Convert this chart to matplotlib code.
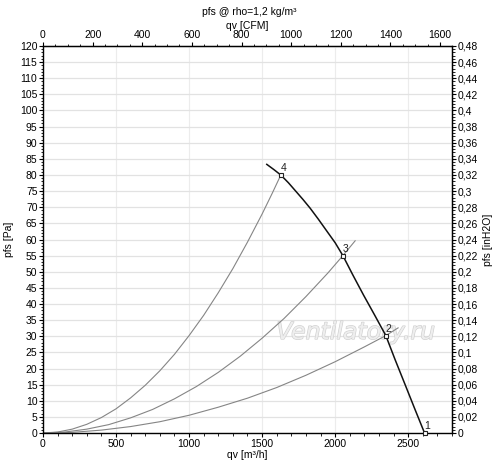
import matplotlib
matplotlib.use("Agg")
import matplotlib.pyplot as plt
from matplotlib.ticker import MultipleLocator, FuncFormatter
import matplotlib.patheffects as pe

plt.rcParams['font.family'] = ['Liberation Sans', 'DejaVu Sans']

# Fan curve (qv m3/h, pfs Pa)
fan_qv = [1532, 1580, 1628, 1680, 1730, 1780, 1829, 1885, 1940, 2000, 2053, 2120, 2194, 2270, 2347, 2410, 2479, 2545, 2612]
fan_p = [83.3, 81.7, 80.0, 77.6, 75.0, 72.4, 69.7, 66.3, 62.8, 59.0, 55.0, 49.1, 42.8, 36.6, 30.2, 22.8, 15.0, 7.5, 0.0]

# System curves
sys4_qv = [0, 100, 200, 300, 400, 500, 600, 700, 800, 900, 1000, 1100, 1200, 1300, 1400, 1500, 1570, 1628]
sys4_p = [0, 0.3, 1.2, 2.7, 4.8, 7.5, 10.9, 14.8, 19.3, 24.4, 30.2, 36.5, 43.5, 51.0, 59.2, 67.9, 74.4, 80.0]
sys3_qv = [0, 150, 300, 450, 600, 750, 900, 1050, 1200, 1350, 1500, 1650, 1800, 1950, 2053, 2137]
sys3_p = [0, 0.3, 1.2, 2.6, 4.7, 7.3, 10.6, 14.4, 18.8, 23.8, 29.4, 35.5, 42.3, 49.6, 55.0, 59.6]
sys2_qv = [0, 200, 400, 600, 800, 1000, 1200, 1400, 1600, 1800, 2000, 2200, 2347, 2431]
sys2_p = [0, 0.2, 0.9, 2.0, 3.5, 5.5, 8.0, 10.8, 14.1, 17.9, 22.1, 26.7, 30.2, 32.6]

# Operating points
pt_labels = ['1', '2', '3', '4']
pt_qv = [2612, 2347, 2053, 1628]
pt_p = [0.0, 30.2, 55.0, 80.0]

M3H_PER_CFM = 1.699
PA_PER_INH2O = 250.0

fig = plt.figure(figsize=(5.0, 4.66), dpi=100)
ax = fig.add_axes([0.086, 0.0708, 0.818, 0.8305])

ax.set_xlim(0, 2800)
ax.set_ylim(0, 120)
ax.xaxis.set_major_locator(MultipleLocator(500))
ax.xaxis.set_minor_locator(MultipleLocator(100))
ax.yaxis.set_major_locator(MultipleLocator(5))
ax.yaxis.set_minor_locator(MultipleLocator(1))
ax.grid(True, which='major', axis='y', color='#e2e2e2', lw=0.9)
ax.grid(True, which='major', axis='x', color='#ececec', lw=0.8)
ax.set_axisbelow(True)

for s in ax.spines.values():
    s.set_linewidth(1.0)
ax.tick_params(which='major', direction='out', length=3, width=0.8, labelsize=7.5, pad=1)
ax.tick_params(which='minor', direction='out', length=1.8, width=0.6)

ax.text(0.765, 0.261, 'Ventilatory.ru', transform=ax.transAxes, fontsize=17,
        family='DejaVu Sans', style='italic', color='#eeeeee', ha='center', va='center', zorder=1,
        path_effects=[pe.withStroke(linewidth=0.9, foreground='#cfcfcf')])

gray = '#858585'
ax.plot(sys4_qv, sys4_p, color=gray, lw=0.8, zorder=2)
ax.plot(sys3_qv, sys3_p, color=gray, lw=0.8, zorder=2)
ax.plot(sys2_qv, sys2_p, color=gray, lw=0.8, zorder=2)
ax.plot(fan_qv, fan_p, color='#111111', lw=1.1, zorder=3)
ax.plot(pt_qv, pt_p, ls='none', marker='s', ms=3.2, mfc='white', mec='#222222', mew=0.8,
        clip_on=False, zorder=5)
for lab, q, p in zip(pt_labels, pt_qv, pt_p):
    ax.annotate(lab, (q, p), xytext=(0, 1.5), textcoords='offset points',
                fontsize=7.5, color='#222222', ha='left', va='bottom', zorder=6)

ax.set_xlabel('qv [m³/h]', fontsize=7.5, labelpad=1)
ax.set_ylabel('pfs [Pa]', fontsize=7.5, labelpad=4)

# top axis CFM
top = ax.secondary_xaxis('top', functions=(lambda x: x / M3H_PER_CFM, lambda x: x * M3H_PER_CFM))
top.xaxis.set_major_locator(MultipleLocator(200))
top.xaxis.set_minor_locator(MultipleLocator(50))
top.tick_params(which='major', direction='out', length=3, width=0.8, labelsize=7.5, pad=1)
top.tick_params(which='minor', direction='out', length=1.8, width=0.6)
top.set_xlabel('qv [CFM]', fontsize=7.5, labelpad=1)

# right axis inH2O
right = ax.secondary_yaxis('right', functions=(lambda y: y / PA_PER_INH2O, lambda y: y * PA_PER_INH2O))
right.yaxis.set_major_locator(MultipleLocator(0.02))
right.yaxis.set_minor_locator(MultipleLocator(0.004))

def comma_fmt(v, pos):
    s = ('%.2f' % v).rstrip('0').rstrip('.')
    if s in ('-0', ''):
        s = '0'
    return s.replace('.', ',')

right.yaxis.set_major_formatter(FuncFormatter(comma_fmt))
right.tick_params(which='major', direction='out', length=3, width=0.8, labelsize=7.5, pad=1)
right.tick_params(which='minor', direction='out', length=1.8, width=0.6)
right.set_ylabel('pfs [inH2O]', fontsize=7.5, labelpad=4)

fig.text(0.4975, 0.974, 'pfs @ rho=1,2 kg/m³', fontsize=7.5, ha='center', va='center')

fig.savefig('out.png', dpi=100)
